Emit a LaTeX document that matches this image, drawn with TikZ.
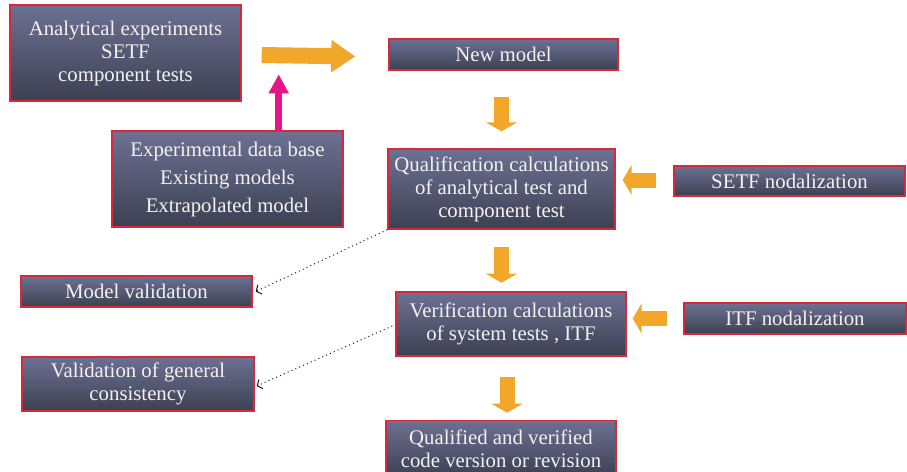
\documentclass[tikz,border=0pt]{standalone}
\usepackage{fontspec}
\setmainfont{Liberation Serif}
\usetikzlibrary{arrows.meta,calc}
\definecolor{boxtop}{HTML}{6D7192}
\definecolor{boxbot}{HTML}{3C4052}
\definecolor{boxrim}{HTML}{D8283A}
\definecolor{flow}{HTML}{F2A72B}
\definecolor{feed}{HTML}{E6168A}
\definecolor{ink}{HTML}{F2F2F2}
\tikzset{
  stage/.style={rectangle, draw=boxrim, line width=1.4pt, top color=boxtop, bottom color=boxbot,
    text=ink, align=center, inner sep=0pt, font=\fontsize{20.8}{23}\selectfont},
  blockdown/.style={flow, line width=15pt, line cap=butt,
    -{Triangle[length=9pt,width=31pt]}},
  blockside/.style={flow, line width=15pt, line cap=butt,
    -{Triangle[length=9pt,width=30pt]}},
  bigright/.style={flow, line width=16pt, line cap=butt,
    -{Triangle[length=24pt,width=31pt]}},
  pinkup/.style={feed, line width=7pt, line cap=butt,
    -{Triangle[length=19pt,width=19pt]}},
  dotlink/.style={line width=1pt, black!90, dash pattern=on 1pt off 3.2pt,
    -{Straight Barb[length=4pt,width=10pt,line width=1pt]}}
}
\begin{document}
\begin{tikzpicture}[x=1pt,y=-1pt]
\useasboundingbox (0,0) rectangle (907,471);

% stages of the qualification procedure
\node[stage, minimum width=231pt, minimum height=96pt] (ana) at (125.5,53)
  {Analytical experiments\\SETF\\component tests};
\node[stage, minimum width=231pt, minimum height=96pt, font=\fontsize{20.8}{28}\selectfont] (exp) at (227.5,179)
  {Experimental data base\\Existing models\\Extrapolated model};
\node[stage, minimum width=229pt, minimum height=31pt] (newm) at (503.5,54.5) {New model};
\node[stage, minimum width=227pt, minimum height=80pt] (qual) at (501.5,189)
  {Qualification calculations\\of analytical test and\\component test};
\node[stage, minimum width=231pt, minimum height=30pt] (setf) at (789.5,181) {SETF nodalization};
\node[stage, minimum width=230pt, minimum height=64pt] (verif) at (511,324)
  {Verification calculations\\of system tests , ITF};
\node[stage, minimum width=222pt, minimum height=31pt] (itf) at (795,318.5) {ITF nodalization};
\node[stage, minimum width=230pt, minimum height=56pt, anchor=north] (final) at (501,420)
  {Qualified and verified\\code version or revision};
\node[stage, minimum width=231pt, minimum height=31pt] (mval) at (136.5,291.5) {Model validation};
\node[stage, minimum width=232pt, minimum height=54pt] (vgen) at (138,384)
  {Validation of general\\consistency};

% main flow
\draw[bigright] ($(ana.east)+(20,2)$) coordinate (bigtail) -- ($(newm.west)+(-33,2)$);
\coordinate (bighead) at ($(ana.east)+(37,10)$);
\draw[pinkup] (exp.north -| bighead) -- ++(0,-56);
\draw[blockdown] ($(newm.south -| qual.north)+(0,26)$) -- ($(qual.north)+(0,-17)$);
\draw[blockdown] ($(qual.south)+(0,17)$) -- ($(qual.south)+(0,53)$);
\draw[blockdown] ($(verif.south)+(-4,20)$) -- ($(verif.south)+(-4,56)$);
\draw[blockside] ($(setf.west)+(-17,-1)$) -- ($(setf.west -| qual.east)+(7,-1)$);
\draw[blockside] ($(itf.west)+(-16,0)$) -- ($(itf.west -| verif.east)+(6,0)$);

% validation links
\draw[dotlink] (qual.south west) -- ($(mval.east)+(3,0)$);
\draw[dotlink] ($(verif.west)+(-3,2)$) -- ($(vgen.east)+(2,2)$);
\end{tikzpicture}
\end{document}
